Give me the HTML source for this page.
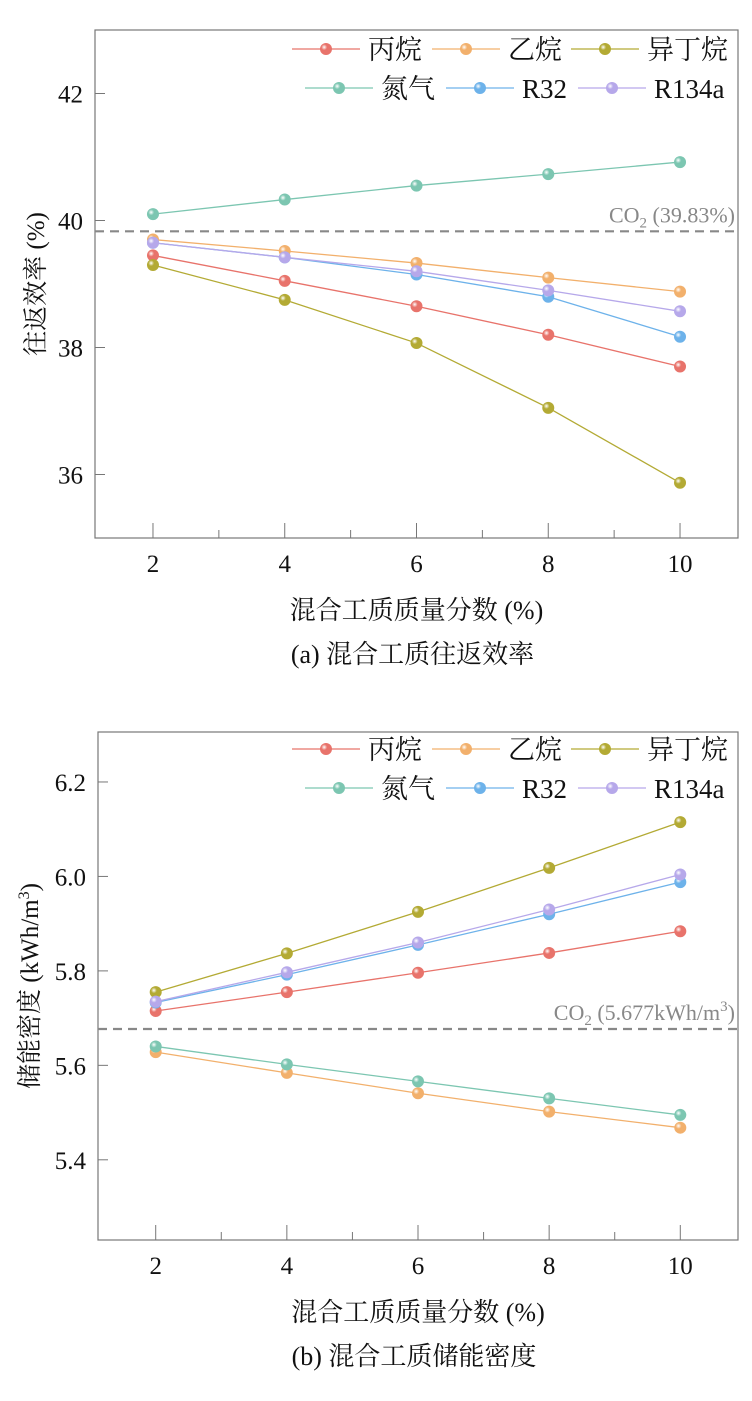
<!DOCTYPE html>
<html><head><meta charset="utf-8">
<style>
body{margin:0;background:#fff;}
svg{display:block;font-family:"Liberation Serif","Noto Serif CJK SC","Noto Sans CJK SC",serif;}
</style></head>
<body>
<svg id="svg" width="752" height="1401" viewBox="0 0 752 1401"></svg>
<script>
const categories=[2,4,6,8,10];
const seriesNames=["丙烷","乙烷","异丁烷","氮气","R32","R134a"];
const colors=["#e8736b","#f2b06c","#b3aa34","#7cc6b1","#6db2ea","#b6a8ea"];
const effPropane=[39.45,39.05,38.65,38.2,37.7];
const effEthane=[39.7,39.52,39.33,39.1,38.88];
const effIsobutane=[39.3,38.75,38.07,37.05,35.87];
const effNitrogen=[40.1,40.33,40.55,40.73,40.92];
const effR32=[39.65,39.42,39.15,38.8,38.17];
const effR134a=[39.65,39.42,39.2,38.9,38.57];
const denPropane=[5.715,5.755,5.796,5.838,5.884];
const denEthane=[5.628,5.584,5.541,5.502,5.468];
const denIsobutane=[5.755,5.837,5.925,6.018,6.115];
const denNitrogen=[5.64,5.602,5.566,5.53,5.495];
const denR32=[5.733,5.792,5.855,5.92,5.988];
const denR134a=[5.735,5.797,5.86,5.93,6.004];
const effTicks=[36,38,40,42];
const denTicks=["5.4","5.6","5.8","6.0","6.2"];
const xTicks=[2,4,6,8,10];
const effRef=[39.83];
const denRef=[5.677];

const NS="http://www.w3.org/2000/svg";
const svg=document.getElementById('svg');
function el(tag,attrs,parent,text){const e=document.createElementNS(NS,tag);for(const k in attrs)e.setAttribute(k,attrs[k]);if(text!==undefined)e.textContent=text;(parent||svg).appendChild(e);return e;}
const defs=el('defs',{});
colors.forEach((c,i)=>{const g=el('radialGradient',{id:'g'+i,cx:'0.35',cy:'0.35',r:'0.7'},defs);
el('stop',{offset:'0','stop-color':'#fff'},g);el('stop',{offset:'0.35','stop-color':c},g);el('stop',{offset:'1','stop-color':c},g);});

function chart(cfg){
 const g=el('g',{});
 
 
 const {L,R,T,B,xmin,xmax,ymin,ymax}=cfg;
 const sx=v=>L+(v-xmin)/(xmax-xmin)*(R-L);
 const sy=v=>B-(v-ymin)/(ymax-ymin)*(B-T);
 const frame=el('rect',{x:L,y:T,width:R-L,height:B-T,fill:'none',stroke:'#777','stroke-width':1.2},g);
 
 for(let x=2;x<=10;x++){const major=x%2===0;el('line',{x1:sx(x),x2:sx(x),y1:B,y2:B-(major?15:8),stroke:'#777','stroke-width':1},g);}
 xTicks.forEach(t=>{const tx=el('text',{x:sx(t),y:B+34,'font-size':25,'text-anchor':'middle',fill:'#111'},g,t);
  });
 cfg.yticks.forEach(t=>{const y=sy(+t);el('line',{x1:L,x2:L+10,y1:y,y2:y,stroke:'#777'},g);
  const ty=el('text',{x:L-12,y:y+9,'font-size':25,'text-anchor':'end',fill:'#111'},g,t);
  });
 const ry=sy(cfg.ref[0]);
 const rl=el('line',{x1:L,x2:R,y1:ry,y2:ry,stroke:'#888','stroke-width':2.2,'stroke-dasharray':'9,6'},g);
 
 const rt=el('text',{x:R-3,y:ry-9,'font-size':22,'text-anchor':'end',fill:'#888'},g);
 
 el('tspan',{},rt,'CO');el('tspan',{'font-size':15,dy:5},rt,'2');el('tspan',{dy:-5},rt,cfg.refText);
 if(cfg.refSup){el('tspan',{'font-size':15,dy:-9},rt,'3');el('tspan',{dy:9},rt,')');}
 cfg.series.forEach((s,i)=>{
  const pts=s.map((v,j)=>sx(categories[j])+','+sy(v)).join(' ');
  const pl=el('polyline',{points:pts,fill:'none',stroke:colors[i],'stroke-width':1.3},g);
  
  s.forEach((v,j)=>{const c=el('circle',{cx:sx(categories[j]),cy:sy(v),r:6,fill:'url(#g'+i+')'},g);
   });
 });
 const rows=[[0,1,2],[3,4,5]];
 const lx=[[292,432,571],[305,446,578]];
 rows.forEach((r,ri)=>r.forEach((si,k)=>{
  const x=lx[ri][k], y=cfg.legY+ri*39;
  const lg=el('g',{},g);
  
  el('line',{x1:x,x2:x+68,y1:y,y2:y,stroke:colors[si],'stroke-width':1.3},lg);
  el('circle',{cx:x+34,cy:y,r:6,fill:'url(#g'+si+')'},lg);
  el('text',{x:x+76,y:y+10,'font-size':27,fill:'#111'},lg,seriesNames[si]);
 }));
 const yt=el('text',{x:0,y:0,'font-size':25,'text-anchor':'middle',fill:'#111',transform:`translate(${cfg.ytx},${(T+B)/2}) rotate(-90)`},g);
 
 cfg.ytitle(yt);
 const xt=el('text',{x:(L+R)/2,y:B+81,'font-size':26,'text-anchor':'middle',fill:'#111'},g,'混合工质质量分数 (%)');
 
 const cap=el('text',{x:(L+R)/2-4,y:B+125,'font-size':26,'text-anchor':'middle',fill:'#111','xml:space':'preserve'},g,cfg.caption);
 
}
chart({name:'efficiency-chart',L:95,R:738,T:30,B:538,xmin:1.12,xmax:10.88,ymin:35,ymax:43,
 yticks:effTicks,ref:effRef,refText:' (39.83%)',refSup:false,legY:49,ytx:44,
 series:[effPropane,effEthane,effIsobutane,effNitrogen,effR32,effR134a],
 ytitle:t=>{t.textContent='往返效率 (%)';},caption:'(a)  混合工质往返效率'});
chart({name:'density-chart',L:98,R:738,T:732,B:1240,xmin:1.12,xmax:10.88,ymin:5.2302,ymax:6.3058,
 yticks:denTicks,ref:denRef,refText:' (5.677kWh/m',refSup:true,legY:749,ytx:38,
 series:[denPropane,denEthane,denIsobutane,denNitrogen,denR32,denR134a],
 ytitle:t=>{el('tspan',{},t,'储能密度 (kWh/m');el('tspan',{'font-size':16,dy:-9},t,'3');el('tspan',{dy:9},t,')');},
 caption:'(b)  混合工质储能密度'});
</script>
</body></html>
